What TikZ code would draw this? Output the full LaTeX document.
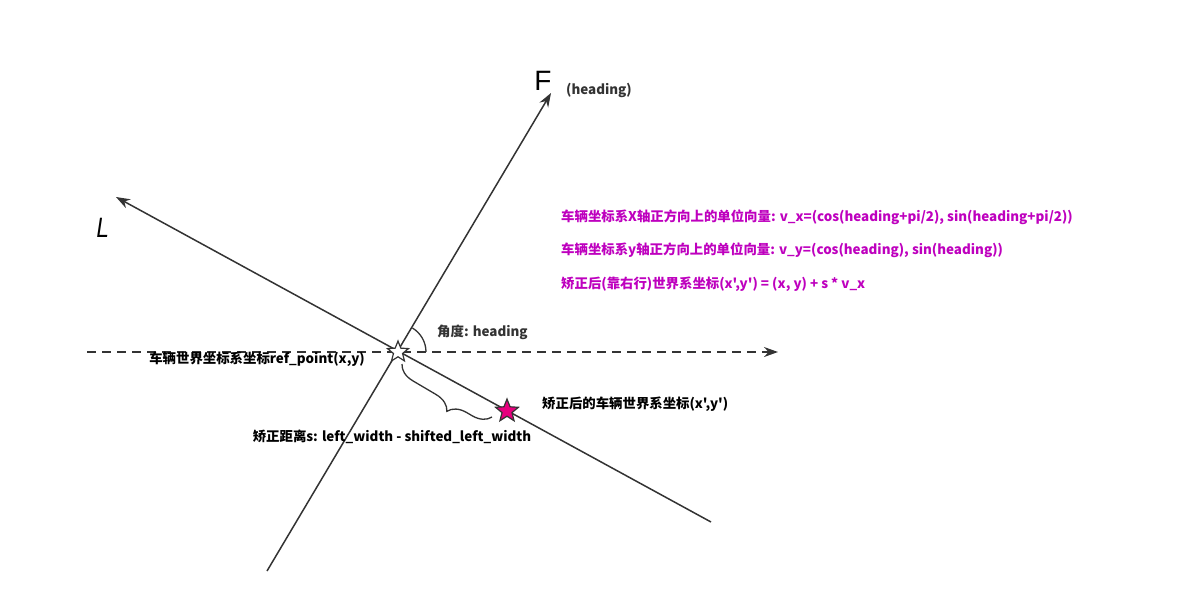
\documentclass[tikz,border=0pt]{standalone}
\usepackage{fontspec}
\setmainfont{Noto Sans CJK SC}[Ligatures=TeXOff]
\newfontfamily\handfont{Liberation Sans}
\usepackage{tikz}
\usetikzlibrary{positioning}
\usetikzlibrary{calc}
\usetikzlibrary{shapes.geometric}
\usetikzlibrary{arrows.meta}
\usetikzlibrary{decorations.pathreplacing}
\definecolor{axisgray}{RGB}{51,51,51}
\definecolor{formula}{RGB}{190,0,190}
\definecolor{starpink}{RGB}{230,0,126}
\tikzset{
    % A filled arrow head, about the size of the original
    >={Stealth[length=14pt,width=10pt]},
%
    % Solid vehicle axes and the dashed world axis
    axis line/.style={draw=axisgray, line width=1.5pt},
    world axis/.style={axis line, dash pattern=on 9pt off 6pt},
%
    % Bold labels in black, and the magenta formulas
    label text/.style={font=\bfseries\fontsize{13.4}{16}\selectfont, inner sep=0pt},
    formula text/.style={label text, text=formula, anchor=west},
%
    % Five pointed marks for the points
    point star/.style={
        star, star points=5, star point ratio=2.3, draw=axisgray,
        line width=1.2pt, inner sep=0pt, minimum size=#1},
    axis letter/.style={font=\handfont\fontsize{28}{28}\selectfont, inner sep=0pt}}

\begin{document}
\begin{tikzpicture}[x=1pt, y=-1pt]
\useasboundingbox (0,0) rectangle (1185,603);

\coordinate (ref) at (398,352);
\coordinate (heading tail) at (267,571);
\coordinate (heading tip) at (551,93);
\coordinate (left tail) at (711,522);
\coordinate (left tip) at (116,197);
\coordinate (world tail) at (87,352);
\coordinate (world tip) at (778,352);

\draw [world axis, ->] (world tail) -- (world tip);
\draw [axis line, ->] (heading tail) -- (heading tip);
\draw [axis line, ->] (left tail) -- (left tip);

% heading angle between world x axis and heading
\draw [axis line, line width=1.3pt] ($(ref)+(28,0)$) arc [start angle=0, end angle=-59, radius=28];

\node (ref star) [point star=22pt, fill=white] at (ref) {};
\node (shifted star) [point star=24pt, fill=starpink] at (507,411) {};

\draw [axis line, line width=1.3pt, decorate,
    decoration={brace, amplitude=18pt, aspect=0.4}]
    (492,417) -- (402,364);

\node (F) [axis letter] at (543,81) {F};
\node (L) [axis letter, xslant=0.15, xscale=0.8] at (103,228) {L};

\node (heading label) [label text, text=axisgray] at (599,90) {(heading)};
\node (angle label) [label text, text=axisgray, anchor=west] at (437,332) {角度: heading};
\node (ref label) [label text, anchor=east] at (365,359) {车辆世界坐标系坐标ref\_point(x,y)};
\node (shifted label) [label text, anchor=west] at (542,404) {矫正后的车辆世界系坐标(x',y')};
\node (distance label) [label text] at (392,437) {矫正距离s: left\_width - shifted\_left\_width};

\node (vx formula) [formula text] at (561,217)
    {车辆坐标系X轴正方向上的单位向量: v\_x=(cos(heading+pi/2), sin(heading+pi/2))};
\node (vy formula) [formula text] at (561,250)
    {车辆坐标系y轴正方向上的单位向量: v\_y=(cos(heading), sin(heading))};
\node (shift formula) [formula text] at (561,284)
    {矫正后(靠右行)世界系坐标(x',y') = (x, y) + s * v\_x};
\end{tikzpicture}
\end{document}
